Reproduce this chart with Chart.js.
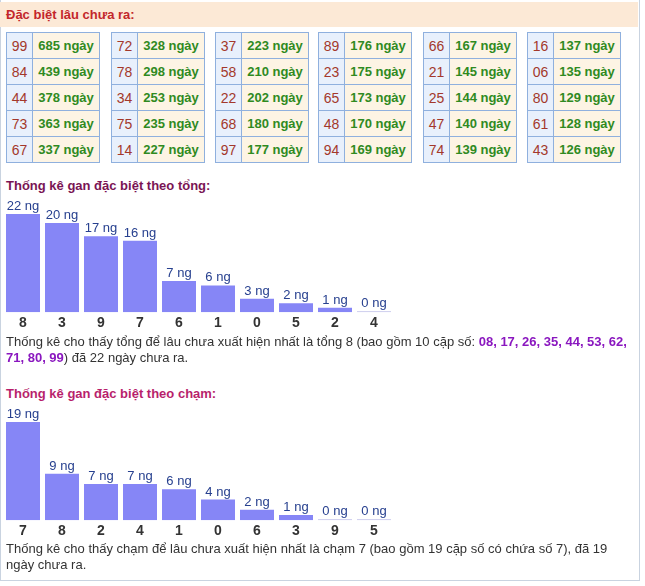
<!DOCTYPE html>
<html>
<head>
<meta charset="utf-8">
<script src="https://cdn.jsdelivr.net/npm/chart.js@4.4.1/dist/chart.umd.min.js"></script>
<style>
  body { margin: 0; background: #fff; font-family: Arial, "Liberation Sans", sans-serif; }
  #box { position: absolute; left: 0; top: 0; width: 638px; height: 580px; border-left: 1px solid #c9d3e0; border-right: 1px solid #c9d3e0; border-bottom: 1px solid #c9d3e0; }
  #head { position: absolute; left: 0; top: 2px; width: 638px; height: 25px; background: #fce9d6; }
  #head span { position: absolute; left: 6px; top: 5px; font-size: 13px; font-weight: bold; color: #c3272b; }
  table.gan { position: absolute; top: 32px; border-collapse: collapse; }
  table.gan td { border: 1px solid #8fb0de; height: 25px; padding: 0; }
  table.gan td.so { width: 25px; background: #e8f0fc; color: #a3382b; font-size: 14px; text-align: center; }
  table.gan td.ngay { width: 66px; background: #fdf4e4; color: #2f8a1f; font-size: 13px; font-weight: bold; text-align: center; }
  .ttl { position: absolute; left: 6px; font-size: 13px; font-weight: bold; }
  .cv { position: absolute; left: 0; }
  .desc { position: absolute; left: 6px; width: 628px; font-size: 13px; line-height: 16px; color: #333; }
  .desc b { color: #8a17bf; }
</style>
</head>
<body>
<div id="box"></div>
<div id="head"><span>Đặc biệt lâu chưa ra:</span></div>
<div id="tables"></div>

<div class="ttl" style="top:178px;color:#7a1454">Thống kê gan đặc biệt theo tổng:</div>
<div class="cv" style="top:194px;width:400px;height:141px"><canvas id="tongChart"></canvas></div>
<div class="desc" id="tongText" style="top:334px"></div>

<div class="ttl" style="top:386px;color:#b81f6c">Thống kê gan đặc biệt theo chạm:</div>
<div class="cv" style="top:402px;width:400px;height:141px"><canvas id="chamChart"></canvas></div>
<div class="desc" id="chamText" style="top:541px"></div>

<script>
// cac cap so lau chua ra (doc theo cot, 5 so moi bang)
const ganNums = ['99','84','44','73','67', '72','78','34','75','14', '37','58','22','68','97',
                 '89','23','65','48','94', '66','21','25','47','74', '16','06','80','61','43']
const ganDays = [685,439,378,363,337, 328,298,253,235,227, 223,210,202,180,177,
                 176,175,173,170,169, 167,145,144,140,139, 137,135,129,128,126]

// gan theo tong
const tongLabels = ['8','3','9','7','6','1','0','5','2','4']
const tongValues = [22,20,17,16,7,6,3,2,1,0]
const tongPairs = ['08','17','26','35','44','53','62','71','80','99']

// gan theo cham
const chamLabels = ['7','8','2','4','1','0','6','3','9','5']
const chamValues = [19,9,7,7,6,4,2,1,0,0]

const tableLeft = [6,111,215,318,423,527]

let html = ''
for(let t=0; t<6; t++){
  html += '<table class="gan" style="left:' + tableLeft[t] + 'px">'
  for(let r=0; r<5; r++){
    let i = t*5 + r
    html += '<tr><td class="so">' + ganNums[i] + '</td><td class="ngay">' + ganDays[i] + ' ngày</td></tr>'
  }
  html += '</table>'
}
document.getElementById('tables').innerHTML = html

document.getElementById('tongText').innerHTML = 'Thống kê cho thấy tổng để lâu chưa xuất hiện nhất là tổng ' + tongLabels[0] +
  ' (bao gồm ' + tongPairs.length + ' cặp số: <b>' + tongPairs.join(', ') + '</b>) đã ' + tongValues[0] + ' ngày chưa ra.'
document.getElementById('chamText').innerHTML = 'Thống kê cho thấy chạm để lâu chưa xuất hiện nhất là chạm ' + chamLabels[0] +
  ' (bao gồm 19 cặp số có chứa số ' + chamLabels[0] + '), đã ' + chamValues[0] + ' ngày chưa ra.'

// ve chu "xx ng" tren moi cot
const ngLabels = {
  id: 'ngLabels',
  afterDatasetsDraw(chart) {
    const ctx = chart.ctx
    const meta = chart.getDatasetMeta(0)
    const data = chart.data.datasets[0].data
    ctx.save()
    ctx.font = '13px Arial, "Liberation Sans"'
    ctx.fillStyle = '#27408f'
    ctx.textAlign = 'center'
    ctx.textBaseline = 'alphabetic'
    meta.data.forEach(function(bar, i){
      ctx.fillText(data[i] + ' ng', bar.x, bar.y - 4)
    })
    ctx.restore()
  }
}

function chart(id, labels, values) {
  const ctx = document.getElementById(id).getContext('2d')
  const colors = values.map(function(v){ return v === 0 ? '#c3c3ea' : '#8686f6' })

  const config = {
    type: 'bar',
    data: {
      labels: labels,
      datasets: [{
        data: values,
        backgroundColor: colors,
        borderWidth: 0,
        minBarLength: 1,
        categoryPercentage: 1,
        barPercentage: 34/39
      }]
    },
    options: {
      responsive: true,
      maintainAspectRatio: false,
      animation: false,
      layout: { padding: { top: 20, left: 3.5, right: 6.5, bottom: 0 } },
      plugins: { legend: { display: false }, tooltip: { enabled: false } },
      scales: {
        x: {
          grid: { display: false, drawTicks: false },
          border: { display: false },
          ticks: { color: '#333', padding: 3, font: { family: 'Arial, "Liberation Sans"', size: 14, weight: 'bold' } }
        },
        y: { display: false, min: 0, max: Math.max.apply(null, values) }
      }
    },
    plugins: [ngLabels]
  }

  return new Chart(ctx, config)
}

chart('tongChart', tongLabels, tongValues)
chart('chamChart', chamLabels, chamValues)
</script>
</body>
</html>
